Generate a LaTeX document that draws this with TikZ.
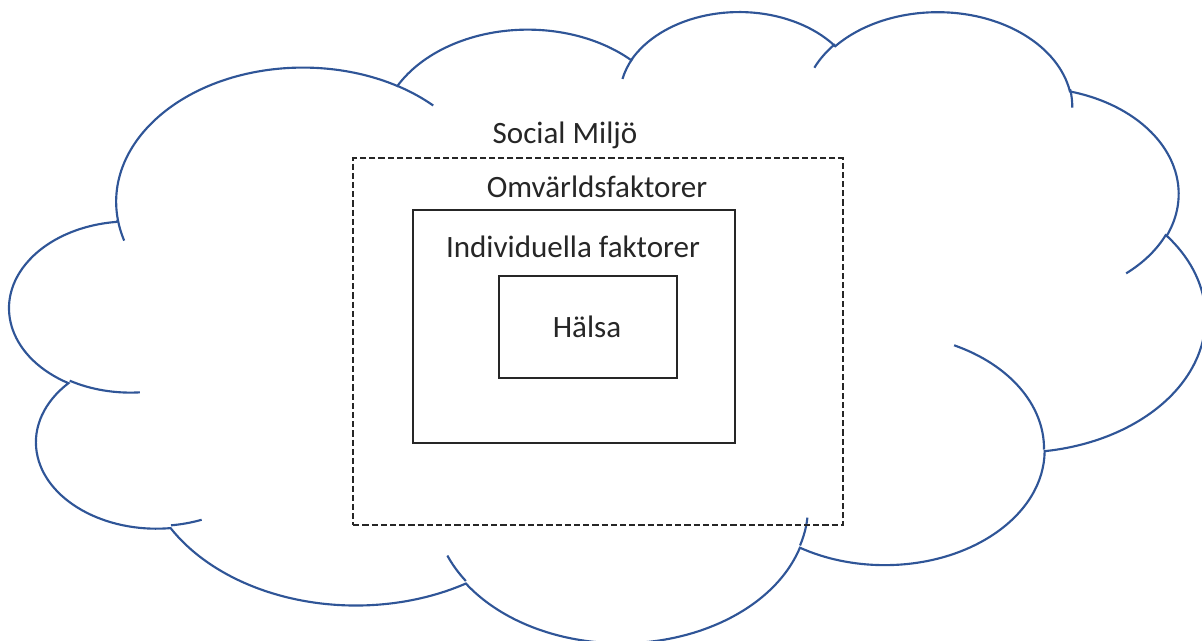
\documentclass[tikz,border=0pt]{standalone}
\usepackage{fontspec}
\setmainfont{Carlito}
\definecolor{cloudblue}{RGB}{47,85,151}
\definecolor{boxgray}{RGB}{38,38,38}
\newcommand\prepArc[5]{%
  \pgfmathsetmacro\myTmpS{atan2((#2)*sin(#4),(#3)*cos(#4))}%
  \pgfmathsetmacro\myTmpE{atan2((#2)*sin(#4+#5),(#3)*cos(#4+#5))}%
  \pgfmathsetmacro\myTmpD{mod(\myTmpE-\myTmpS+720,360)}%
  \expandafter\xdef\csname #1S\endcsname{\myTmpS}%
  \expandafter\xdef\csname #1D\endcsname{\myTmpD}%
}
\tikzset{
  cloudline/.style={draw=cloudblue, line width=1.6pt},
  boxsolid/.style={draw=boxgray, line width=1.8pt, rectangle, inner sep=0pt, anchor=north west},
  boxdash/.style={boxsolid, dash pattern=on 4.6pt off 2.3pt},
  lbl/.style={text=boxgray, anchor=base, inner sep=0pt, font=\fontsize{23.3pt}{28pt}\selectfont},
}
\begin{document}
\begin{tikzpicture}[x=0.75pt, y=-0.75pt]
\useasboundingbox (0,0) rectangle (1202,641);
% cloud (preset cloud geometry, 432 x 432 units)
\prepArc{clA}{67.53}{91.90}{-190.48748}{123.78053}
\prepArc{clB}{53.33}{72.67}{-144.10238}{89.94523}
\prepArc{clC}{43.65}{59.45}{-145.80792}{99.72302}
\prepArc{clD}{48.57}{65.95}{-130.98607}{117.24173}
\prepArc{clE}{53.33}{72.73}{-78.70888}{109.02692}
\prepArc{clF}{67.75}{92.20}{-46.26725}{130.269}
\prepArc{clG}{57.85}{78.67}{0.62502}{114.03333}
\prepArc{clH}{67.52}{92.15}{22.4516}{115.17255}
\prepArc{clI}{77.20}{105.43}{66.24263}{75.71102}
\prepArc{clJ}{43.60}{59.18}{-274.94208}{146.73557}
\prepArc{clK}{43.45}{59.45}{-246.8285}{152.51885}
\prepArc{crA}{43.45}{59.45}{86.742}{26.4295}
\prepArc{crB}{43.60}{59.18}{73.61047}{11.44747}
\prepArc{crC}{67.52}{92.15}{137.62415}{14.0811}
\prepArc{crD}{67.52}{92.15}{6.45327}{15.99835}
\prepArc{crE}{57.85}{78.67}{-70.29235}{70.91737}
\prepArc{crF}{53.33}{72.73}{30.31803}{27.7515}
\prepArc{crG}{48.57}{65.95}{-13.74433}{14.8589}
\prepArc{crH}{48.57}{65.95}{-149.18145}{18.19537}
\prepArc{crI}{43.65}{59.45}{-163.49427}{17.68635}
\prepArc{crJ}{67.53}{91.90}{-66.70695}{12.31935}
\prepArc{crK}{67.53}{91.90}{157.65435}{11.85817}
\begin{scope}[shift={(10,10)}, x=2.07465pt, y=-1.09549pt]
\draw[cloudline] (39.00,143.70)
  arc[start angle=\clAS, delta angle=\clAD, x radius=67.53, y radius=91.90]
  arc[start angle=\clBS, delta angle=\clBD, x radius=53.33, y radius=72.67]
  arc[start angle=\clCS, delta angle=\clCD, x radius=43.65, y radius=59.45]
  arc[start angle=\clDS, delta angle=\clDD, x radius=48.57, y radius=65.95]
  arc[start angle=\clES, delta angle=\clED, x radius=53.33, y radius=72.73]
  arc[start angle=\clFS, delta angle=\clFD, x radius=67.75, y radius=92.20]
  arc[start angle=\clGS, delta angle=\clGD, x radius=57.85, y radius=78.67]
  arc[start angle=\clHS, delta angle=\clHD, x radius=67.52, y radius=92.15]
  arc[start angle=\clIS, delta angle=\clID, x radius=77.20, y radius=105.43]
  arc[start angle=\clJS, delta angle=\clJD, x radius=43.60, y radius=59.18]
  arc[start angle=\clKS, delta angle=\clKD, x radius=43.45, y radius=59.45]
  -- cycle;
\draw[cloudline] (46.93,261.77) arc[start angle=\crAS, delta angle=\crAD, x radius=43.45, y radius=59.45];
\draw[cloudline] (69.28,348.99) arc[start angle=\crBS, delta angle=\crBD, x radius=43.60, y radius=59.18];
\draw[cloudline] (164.78,390.90) arc[start angle=\crCS, delta angle=\crCD, x radius=67.52, y radius=92.15];
\draw[cloudline] (288.27,347.51) arc[start angle=\crDS, delta angle=\crDD, x radius=67.52, y radius=92.15];
\draw[cloudline] (341.29,229.54) arc[start angle=\crES, delta angle=\crED, x radius=57.85, y radius=78.67];
\draw[cloudline] (417.98,153.54) arc[start angle=\crFS, delta angle=\crFD, x radius=53.33, y radius=72.73];
\draw[cloudline] (383.24,54.26) arc[start angle=\crGS, delta angle=\crGD, x radius=48.57, y radius=65.95];
\draw[cloudline] (290.78,39.52) arc[start angle=\crHS, delta angle=\crHD, x radius=48.57, y radius=65.95];
\draw[cloudline] (221.41,47.20) arc[start angle=\crIS, delta angle=\crID, x radius=43.65, y radius=59.45];
\draw[cloudline] (140.00,51.92) arc[start angle=\crJS, delta angle=\crJD, x radius=67.53, y radius=91.90];
\draw[cloudline] (41.27,157.89) arc[start angle=\crKS, delta angle=\crKD, x radius=67.53, y radius=91.90];
\end{scope}
% boxes
\node[boxdash, minimum width=367.5pt, minimum height=275.25pt] (social) at (352,157) {};
\node[boxsolid, minimum width=241.5pt, minimum height=174.75pt] (omv) at (412,209) {};
\node[boxsolid, minimum width=133.5pt, minimum height=76.5pt] (halsa) at (498,275) {};
% labels
\node[lbl] (tsocial) at (565,144) {Social Miljö};
\node[lbl] (tomv) at (597,198) {Omvärldsfaktorer};
\node[lbl] (tind) at (573,258) {Individuella faktorer};
\node[lbl] (thalsa) at (587,338) {Hälsa};
\end{tikzpicture}
\end{document}
